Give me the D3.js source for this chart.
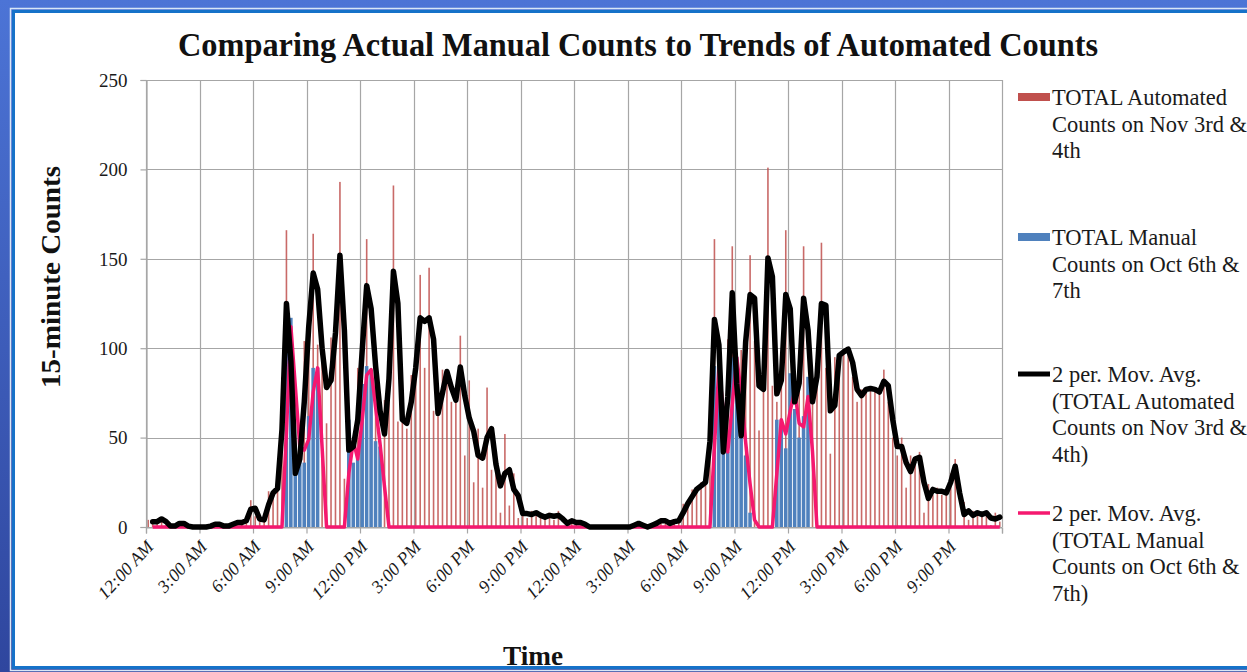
<!DOCTYPE html>
<html>
<head>
<meta charset="utf-8">
<script src="https://cdn.jsdelivr.net/npm/d3@7"></script>
<style>
  body { margin: 0; overflow: hidden; background: #3d5cb8; }
</style>
</head>
<body>
<div id="chart"></div>
<script>
// tick labels, one per 3 hours (12 slots of 15 minutes)
const timeLabels = ["12:00 AM", "3:00 AM", "6:00 AM", "9:00 AM", "12:00 PM", "3:00 PM", "6:00 PM", "9:00 PM",
                    "12:00 AM", "3:00 AM", "6:00 AM", "9:00 AM", "12:00 PM", "3:00 PM", "6:00 PM", "9:00 PM"];

// TOTAL Automated Counts, 15-minute slots, day 1 (Nov 3rd) and day 2 (Nov 4th)
const autoDay1 = [4, 2, 4, 5, 1, 0, 1, 3, 1, 0, 0, 0, 0, 0, 1, 2, 1, 0, 1, 2, 3, 2, 5,
                  15, 6, 3, 5, 20, 18, 25, 84, 166,
                  20, 40, 36, 104, 120, 164, 102, 98, 58, 106, 111, 193, 27, 59, 31, 89, 109, 161, 83, 97, 33, 71, 95, 191, 59, 61, 55,
                  85, 93, 141, 89, 145, 65, 62, 88, 86, 70, 72, 107,
                  40, 82, 25, 55, 22, 78, 32, 38, 8, 52, 12, 30, 5, 10,
                  5, 9, 7, 6, 5, 8, 4, 9, 0, 4, 3];
const autoDay2 = [2, 3, 0, 0, 0, 0, 0, 0, 0, 0, 0, 0, 0, 2, 2, 0, 0, 2, 2, 5, 2, 2, 4, 3,
                  13, 13, 21, 21, 25, 25, 71, 161,
                  43, 41, 105, 157, 3, 99, 108, 152, 104, 54, 100, 201, 79, 70, 94, 166, 78, 62, 99, 157, 63, 77, 91, 159, 89, 41, 95, 97, 99, 100, 84,
                  70, 77, 77, 78, 76, 75, 88, 70, 50, 40, 50, 22, 40, 36, 42, 8, 24, 18, 22, 18, 20, 30, 38, 0, 14, 4, 9, 7, 7, 9, 1, 8, 3];

// TOTAL Manual Counts, day 1 (Oct 6th) and day 2 (Oct 7th)
const manualDay1 = [0, 0, 0, 0, 0, 0, 0, 0, 0, 0, 0, 0, 0, 0, 0, 0, 0, 0, 0, 0, 0, 0, 0, 0,
                    0, 0, 0, 0, 0, 0, 0, 107, 117, 40, 50, 36, 62, 89, 89, 0, 0, 0, 0, 0, 0, 60, 36, 40,
                    80, 90, 86, 48, 45, 0, 0, 0, 0, 0, 0, 0, 0, 0, 0, 0, 0, 0, 0, 0, 0, 0, 0, 0,
                    0, 0, 0, 0, 0, 0, 0, 0, 0, 0, 0, 0, 0, 0, 0, 0, 0, 0, 0, 0, 0, 0, 0, 0];
const manualDay2 = [0, 0, 0, 0, 0, 0, 0, 0, 0, 0, 0, 0, 0, 0, 0, 0, 0, 0, 0, 0, 0, 0, 0, 0,
                    0, 0, 0, 0, 0, 0, 0, 90, 88, 42, 42, 95, 95, 55, 40, 8, 0, 0, 0, 0, 0, 60, 60, 44,
                    86, 66, 50, 62, 84, 0, 0, 0, 0, 0, 0, 0, 0, 0, 0, 0, 0, 0, 0, 0, 0, 0, 0, 0,
                    0, 0, 0, 0, 0, 0, 0, 0, 0, 0, 0, 0, 0, 0, 0, 0, 0, 0, 0, 0, 0, 0, 0, 0];

const yTicks = [0, 50, 100, 150, 200, 250];

function add_svg(wrapper)
{
  var svg = d3.select(wrapper).select("svg");

  if (svg.empty())
    svg = d3.select(wrapper).append("svg");
  else
    svg.selectAll("*").remove();

  return svg.attr("width", 1247).attr("height", 672).style("display", "block");
}

function draw_chart(wrapper)
{
  const svg = add_svg(wrapper);
  const serif = "'Liberation Serif', 'Times New Roman', serif";
  const colors = {auto: "#c0504d", manual: "#4f81bd", autoAvg: "#000000", manualAvg: "#f5186f", grid: "#a6a6a6"};

  const autoCounts = autoDay1.concat(autoDay2);
  const manualCounts = manualDay1.concat(manualDay2);
  const slots = d3.range(autoCounts.length);

  // 2 period moving average (Excel trendline), starts at the 2nd point
  const autoAvg = d3.pairs(autoCounts, (a, b) => (a + b) / 2).map((v, i) => ({i: i + 1, v: v}));
  const manualAvg = d3.pairs(manualCounts, (a, b) => (a + b) / 2).map((v, i) => ({i: i + 1, v: v}));

  // background frame
  const defs = svg.append("defs");
  const grad = defs.append("linearGradient").attr("id", "bg").attr("x1", 0).attr("y1", 0).attr("x2", 0).attr("y2", 1);
  grad.append("stop").attr("offset", "0%").attr("stop-color", "#4c74d6");
  grad.append("stop").attr("offset", "100%").attr("stop-color", "#2f469e");
  svg.append("rect").attr("width", 1247).attr("height", 672).attr("fill", "url(#bg)");
  svg.append("rect")
    .attr("x", 10.5).attr("y", 8.5).attr("width", 1260).attr("height", 662)
    .attr("fill", "none").attr("stroke", "#d8e6f7").attr("stroke-width", 1.5);
  svg.append("rect")
    .attr("x", 13.5).attr("y", 11.5).attr("width", 1260).attr("height", 656)
    .attr("fill", "#ffffff").attr("stroke", "#1672c9").attr("stroke-width", 3);

  const plot = {left: 146, right: 1002, top: 80, bottom: 527};

  const x = d3.scaleBand().domain(slots).range([plot.left, plot.right]).padding(0);
  const hours = d3.scaleLinear().domain([0, 48]).range([plot.left, plot.right]);
  const y = d3.scaleLinear().domain([0, 250]).range([plot.bottom, plot.top]);

  // gridlines
  svg.append("g")
    .selectAll("line")
    .data(yTicks)
    .join("line")
      .attr("x1", plot.left).attr("x2", plot.right)
      .attr("y1", d => Math.round(y(d)) + 0.5).attr("y2", d => Math.round(y(d)) + 0.5)
      .attr("stroke", colors.grid).attr("stroke-width", 1.2);
  svg.append("g")
    .selectAll("line")
    .data(d3.range(0, 49, 3))
    .join("line")
      .attr("x1", d => Math.round(hours(d)) + 0.5).attr("x2", d => Math.round(hours(d)) + 0.5)
      .attr("y1", plot.top).attr("y2", plot.bottom)
      .attr("stroke", colors.grid).attr("stroke-width", 1.2);

  // automated bars (thin, behind)
  svg.append("g")
    .selectAll("rect")
    .data(slots)
    .join("rect")
      .attr("x", i => x(i) + x.bandwidth() / 2 - 0.8)
      .attr("y", i => y(autoCounts[i]))
      .attr("width", 1.6)
      .attr("height", i => y(0) - y(autoCounts[i]))
      .attr("fill", colors.auto)
      .attr("opacity", 0.85);

  // manual bars
  svg.append("g")
    .selectAll("rect")
    .data(slots.filter(i => manualCounts[i] > 0))
    .join("rect")
      .attr("x", i => x(i) + 0.4)
      .attr("y", i => y(manualCounts[i]))
      .attr("width", x.bandwidth() - 0.9)
      .attr("height", i => y(0) - y(manualCounts[i]))
      .attr("fill", colors.manual);

  // axes
  const yAxis = d3.axisLeft(y).tickValues(yTicks).tickSize(6).tickPadding(13);
  svg.append("g")
    .attr("transform", `translate(${plot.left + 0.5}, 0)`)
    .call(yAxis)
    .call(g => g.select(".domain").attr("stroke", colors.grid).attr("stroke-width", 1.2))
    .call(g => g.selectAll(".tick line").attr("stroke", colors.grid).attr("stroke-width", 1.2))
    .call(g => g.selectAll(".tick text")
      .attr("font-family", serif).attr("font-size", 19).attr("fill", "#1a1a1a").attr("dy", "0.33em"));

  const xAxis = d3.axisBottom(hours).tickValues(d3.range(0, 49, 3)).tickSize(6).tickFormat(d => timeLabels[d / 3] || "");
  svg.append("g")
    .attr("transform", `translate(0, ${plot.bottom + 0.5})`)
    .call(xAxis)
    .call(g => g.select(".domain").attr("stroke", colors.grid).attr("stroke-width", 1.2))
    .call(g => g.selectAll(".tick line").attr("stroke", colors.grid).attr("stroke-width", 1.2))
    .call(g => g.selectAll(".tick text")
      .attr("font-family", serif).attr("font-size", 18).attr("font-style", "italic").attr("fill", "#1a1a1a")
      .attr("text-anchor", "end")
      .attr("y", 0).attr("dy", 0)
      .attr("transform", "translate(8, 20) rotate(-47)"));

  // moving average lines
  const line = d3.line()
    .x(d => x(d.i) + x.bandwidth() / 2)
    .y(d => y(d.v));

  svg.append("path")
    .datum(manualAvg)
    .attr("d", line)
    .attr("fill", "none")
    .attr("stroke", colors.manualAvg)
    .attr("stroke-width", 3.5)
    .attr("stroke-linejoin", "round");

  svg.append("path")
    .datum(autoAvg)
    .attr("d", line)
    .attr("fill", "none")
    .attr("stroke", colors.autoAvg)
    .attr("stroke-width", 5.5)
    .attr("stroke-linejoin", "round")
    .attr("stroke-linecap", "round");

  // titles
  svg.append("text")
    .attr("x", 638).attr("y", 56)
    .attr("text-anchor", "middle")
    .attr("font-family", serif).attr("font-weight", "bold").attr("font-size", 33)
    .attr("textLength", 920).attr("lengthAdjust", "spacingAndGlyphs")
    .attr("fill", "#111")
    .text("Comparing Actual Manual Counts to Trends of Automated Counts");

  svg.append("text")
    .attr("transform", "translate(60, 277) rotate(-90)")
    .attr("text-anchor", "middle")
    .attr("font-family", serif).attr("font-weight", "bold").attr("font-size", 27)
    .attr("textLength", 222).attr("lengthAdjust", "spacingAndGlyphs")
    .attr("fill", "#111")
    .text("15-minute Counts");

  svg.append("text")
    .attr("x", 533).attr("y", 665)
    .attr("text-anchor", "middle")
    .attr("font-family", serif).attr("font-weight", "bold").attr("font-size", 28)
    .attr("textLength", 60).attr("lengthAdjust", "spacingAndGlyphs")
    .attr("fill", "#111")
    .text("Time");

  // legend
  const legend = [
    {type: "rect", color: colors.auto, y: 97, lines: ["TOTAL Automated", "Counts on Nov 3rd &", "4th"]},
    {type: "rect", color: colors.manual, y: 237, lines: ["TOTAL Manual", "Counts on Oct 6th &", "7th"]},
    {type: "line", color: colors.autoAvg, y: 374, lines: ["2 per. Mov. Avg.", "(TOTAL Automated", "Counts on Nov 3rd &", "4th)"]},
    {type: "line", color: colors.manualAvg, y: 513, lines: ["2 per. Mov. Avg.", "(TOTAL Manual", "Counts on Oct 6th &", "7th)"]}
  ];

  const items = svg.append("g")
    .selectAll("g")
    .data(legend)
    .join("g")
      .attr("transform", d => `translate(1018, ${d.y})`);

  items.filter(d => d.type == "rect").append("rect")
    .attr("x", 0).attr("y", -4).attr("width", 32).attr("height", 8)
    .attr("fill", d => d.color);
  items.filter(d => d.type == "line").append("line")
    .attr("x1", 0).attr("x2", 32).attr("y1", 0).attr("y2", 0)
    .attr("stroke", d => d.color)
    .attr("stroke-width", d => d.color == colors.autoAvg ? 5 : 3.5);

  items.append("text")
    .attr("font-family", serif).attr("font-size", 22.5).attr("fill", "#1a1a1a")
    .selectAll("tspan")
    .data(d => d.lines)
    .join("tspan")
      .attr("x", 34)
      .attr("y", (d, i) => 8 + i * 26.7)
      .text(d => d);
}

draw_chart("#chart");
</script>
</body>
</html>
